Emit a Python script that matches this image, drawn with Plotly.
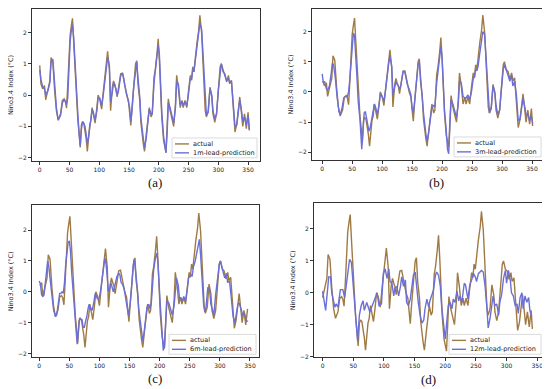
import plotly.graph_objects as go

# ---- Data ----
actual_t = [0, 2, 5, 8, 10, 14, 17, 19, 22, 25, 28, 31, 35, 38, 41, 43, 45, 47, 49, 51, 53, 55, 57, 59, 61, 64, 66, 68, 70, 72, 74, 76, 78, 80, 82, 84, 86, 88, 90, 93, 96, 98, 101, 104, 107, 110, 112, 114, 117, 119, 122, 124, 126, 128, 130, 132, 134, 136, 139, 141, 143, 146, 149, 151, 153, 155, 158, 161, 163, 165, 168, 170, 174, 176, 179, 182, 184, 187, 189, 192, 194, 197, 199, 201, 203, 205, 208, 210, 212, 214, 216, 219, 222, 225, 228, 230, 233, 236, 239, 241, 244, 247, 250, 253, 255, 257, 259, 261, 264, 267, 269, 272, 275, 278, 280, 283, 286, 289, 291, 294, 297, 300, 303, 305, 308, 311, 314, 317, 319, 322, 325, 328, 331, 333, 336, 339, 341, 344, 347, 350, 352]
actual_v = [0.95, 0.36, 0.2, 0.3, -0.15, 0.2, 0.45, 1.2, 1.05, 0.15, -0.5, -0.8, -0.6, -0.17, -0.12, -0.2, -0.42, 0.3, 1.3, 1.9, 2.2, 2.45, 1.7, 0.9, 0.1, -0.8, -1.2, -1.67, -0.95, -0.85, -0.9, -1.1, -1.4, -1.8, -1.24, -0.95, -0.8, -0.4, -0.6, -0.9, -0.4, 0.0, -0.15, -0.45, 0.15, 0.8, 1.0, 1.4, 0.8, -0.5, 0.25, 0.45, 0.3, 0.2, -0.06, 0.15, 0.4, 0.68, 0.7, 0.5, 0.25, 0.0, -0.17, -0.5, -0.97, -0.4, 0.45, 1.0, 1.1, 0.36, -0.17, -0.9, -1.56, -1.8, -1.24, -0.7, -0.4, -0.7, -0.6, 0.58, 0.8, 1.33, 1.8, 1.1, -0.17, -0.7, -1.45, -1.72, -1.83, -1.0, -0.12, -0.5, -0.8, -1.0, -0.28, 0.63, 0.2, -0.4, -0.17, -0.4, -0.17, -0.4, 0.15, 0.63, 0.47, 0.9, 0.74, 1.22, 1.65, 2.07, 2.55, 1.97, 0.68, -0.5, -0.7, -0.5, 0.25, -0.06, -0.6, -0.87, -0.6, 0.25, 0.9, 1.0, 0.74, 0.68, 0.42, 0.63, 0.36, 0.47, -0.28, -1.18, -0.92, -0.5, -0.06, -0.6, -1.0, -0.6, -1.07, -0.55, -1.13]

# start offset of the actual series in each panel (a, b, c, d)
panel_offsets = [0, 1, 4, 10]
panel_lengths = [352, 351, 347, 342]

pred1_v = [0.8, 0.5, 0.25, 0.2, 0.0, 0.15, 0.4, 1.05, 1.15, 0.35, -0.4, -0.8, -0.65, -0.25, -0.15, -0.2, -0.3, -0.1, 1.0, 1.7, 2.05, 2.25, 1.85, 1.0, 0.3, -0.6, -1.2, -1.62, -1.1, -0.85, -0.9, -1.0, -1.25, -1.55, -1.35, -1.0, -0.85, -0.45, -0.55, -0.8, -0.5, -0.1, -0.1, -0.35, 0.05, 0.65, 0.95, 1.2, 0.95, -0.2, 0.1, 0.4, 0.35, 0.2, 0.0, 0.1, 0.35, 0.62, 0.7, 0.55, 0.3, 0.05, -0.15, -0.4, -0.85, -0.5, 0.3, 0.9, 1.05, 0.55, -0.05, -0.75, -1.45, -1.7, -1.35, -0.8, -0.45, -0.6, -0.6, 0.4, 0.75, 1.2, 1.6, 1.3, 0.1, -0.55, -1.3, -1.65, -1.85, -1.2, -0.25, -0.4, -0.7, -0.9, -0.4, 0.45, 0.35, -0.3, -0.2, -0.35, -0.2, -0.35, 0.05, 0.55, 0.5, 0.8, 0.75, 1.1, 1.5, 1.95, 2.3, 2.1, 0.9, -0.35, -0.65, -0.55, 0.2, 0.0, -0.5, -0.75, -0.6, 0.15, 0.8, 1.0, 0.8, 0.65, 0.45, 0.55, 0.4, 0.45, -0.15, -1.0, -0.95, -0.6, -0.15, -0.5, -0.85, -0.7, -0.95, -0.65, -1.1]

pred3_t = [0, 2, 4, 7, 9, 12, 15, 17, 19, 22, 25, 28, 30, 33, 36, 39, 42, 44, 46, 48, 50, 52, 54, 56, 58, 60, 63, 66, 68, 70, 72, 74, 76, 78, 80, 83, 85, 87, 89, 92, 95, 97, 100, 103, 106, 109, 111, 113, 116, 118, 121, 123, 125, 127, 129, 131, 133, 135, 138, 140, 142, 145, 148, 150, 152, 154, 157, 160, 162, 164, 167, 169, 173, 175, 178, 181, 183, 186, 188, 191, 193, 196, 198, 200, 202, 204, 207, 209, 211, 213, 215, 218, 221, 224, 227, 229, 232, 235, 238, 240, 243, 246, 249, 252, 254, 256, 258, 260, 263, 266, 268, 271, 274, 277, 279, 282, 285, 288, 290, 293, 296, 299, 302, 304, 307, 310, 313, 316, 318, 321, 324, 327, 330, 332, 335, 338, 340, 343, 346, 349, 351]
pred3_v = [0.6, 0.3, 0.35, 0.1, 0.05, 0.2, 0.6, 0.95, 0.9, 0.45, -0.2, -0.65, -0.75, -0.55, -0.2, -0.15, -0.15, 0.0, 0.4, 1.0, 1.5, 1.95, 1.85, 1.3, 0.5, -0.3, -0.9, -1.9, -1.2, -0.7, -0.65, -0.85, -1.0, -1.3, -1.2, -0.8, -0.65, -0.4, -0.5, -0.75, -0.4, -0.05, -0.15, -0.3, 0.1, 0.7, 0.95, 1.2, 0.85, -0.1, 0.2, 0.35, 0.25, 0.2, 0.1, 0.2, 0.45, 0.7, 0.65, 0.4, 0.25, 0.1, -0.1, -0.55, -0.7, -0.35, 0.4, 0.9, 1.0, 0.5, -0.1, -0.7, -1.4, -1.65, -1.3, -0.8, -0.5, -0.45, -0.5, 0.3, 0.65, 1.2, 1.5, 1.15, 0.0, -0.6, -1.3, -1.9, -2.05, -1.2, -0.25, -0.4, -0.65, -0.85, -0.4, 0.35, 0.3, -0.15, -0.2, -0.2, -0.1, -0.25, 0.0, 0.45, 0.5, 0.75, 0.7, 0.85, 1.3, 1.75, 2.0, 1.9, 0.9, -0.3, -0.7, -0.55, 0.2, 0.0, -0.45, -0.75, -0.6, 0.1, 0.75, 0.9, 0.75, 0.55, 0.35, 0.55, 0.2, 0.35, -0.1, -0.95, -0.9, -0.6, -0.2, -0.5, -0.75, -0.75, -0.95, -0.8, -1.05]

pred6_t = [0, 2, 4, 6, 8, 10, 12, 14, 16, 18, 21, 24, 27, 29, 32, 34, 36, 38, 40, 42, 44, 46, 48, 50, 52, 54, 57, 60, 63, 65, 67, 69, 71, 73, 75, 77, 79, 81, 83, 86, 88, 91, 93, 96, 99, 102, 105, 107, 109, 111, 113, 115, 117, 119, 121, 123, 125, 127, 129, 132, 134, 136, 138, 141, 143, 146, 148, 151, 154, 156, 158, 160, 163, 165, 168, 170, 172, 174, 177, 179, 182, 184, 186, 188, 190, 193, 195, 197, 199, 201, 203, 206, 208, 210, 212, 215, 218, 221, 224, 226, 228, 231, 233, 235, 238, 240, 243, 246, 248, 250, 252, 254, 256, 259, 262, 264, 266, 268, 270, 273, 275, 277, 280, 283, 285, 288, 290, 293, 296, 299, 301, 303, 306, 308, 311, 313, 316, 319, 322, 325, 327, 330, 332, 335, 338, 341, 344, 347]
pred6_v = [0.35, 0.25, -0.1, -0.15, -0.1, 0.3, 0.8, 1.0, 0.8, 0.35, -0.1, -0.6, -0.8, -0.75, -0.4, -0.05, -0.05, 0.0, -0.05, 0.3, 0.9, 1.3, 1.6, 1.65, 1.3, 0.6, -0.2, -0.9, -1.7, -1.3, -0.85, -0.9, -0.9, -1.15, -1.15, -0.95, -0.8, -0.55, -0.4, -0.55, -0.6, -0.3, -0.05, -0.2, -0.25, 0.05, 0.5, 0.85, 1.1, 0.9, 0.3, 0.0, 0.1, 0.3, 0.15, 0.0, 0.15, 0.35, 0.5, 0.6, 0.55, 0.3, 0.25, 0.1, -0.2, -0.5, -0.75, -0.4, 0.3, 0.85, 1.05, 0.7, 0.1, -0.5, -1.0, -1.45, -1.6, -1.35, -0.8, -0.5, -0.4, -0.55, -0.4, 0.3, 0.7, 1.1, 1.25, 1.0, 0.1, -0.4, -1.0, -1.9, -1.75, -1.1, -0.3, -0.35, -0.55, -0.75, -0.45, 0.2, 0.45, 0.2, -0.25, -0.2, -0.3, -0.15, -0.3, 0.1, 0.45, 0.5, 0.55, 0.5, 0.8, 1.0, 1.35, 1.6, 1.7, 1.2, 0.5, -0.4, -0.65, -0.5, 0.15, 0.05, -0.4, -0.65, -0.75, -0.1, 0.5, 0.9, 1.0, 0.8, 0.6, 0.45, 0.6, 0.3, 0.35, -0.2, -0.8, -1.0, -0.8, -0.4, -0.35, -0.6, -0.75, -0.7, -0.95, -0.95]

pred12_t = [0, 5, 10, 13, 15, 20, 22, 25, 29, 33, 36, 40, 44, 47, 50, 52, 55, 57, 60, 63, 66, 68, 72, 77, 80, 84, 89, 92, 96, 99, 102, 105, 108, 110, 113, 116, 118, 121, 124, 127, 129, 132, 135, 137, 140, 143, 146, 148, 151, 154, 156, 159, 162, 165, 167, 170, 173, 175, 178, 181, 184, 186, 189, 192, 194, 197, 200, 203, 205, 208, 211, 213, 216, 219, 222, 224, 227, 231, 233, 237, 240, 243, 246, 249, 251, 254, 257, 259, 262, 265, 268, 270, 273, 276, 278, 281, 284, 287, 289, 292, 295, 298, 300, 303, 306, 308, 311, 314, 317, 319, 322, 325, 327, 330, 333, 336, 338, 341]
pred12_v = [0.05, -0.55, 0.5, 0.5, 0.0, -0.45, -0.35, -0.45, 0.1, 0.1, -0.15, 0.5, 1.05, 0.95, 0.15, -0.5, -1.0, -1.5, -0.7, -0.4, -0.25, -0.55, -0.3, -0.6, -0.45, -0.25, 0.0, -0.4, -0.35, 0.6, 0.75, 0.45, 0.75, 0.35, 0.3, -0.1, 0.15, 0.2, -0.1, 0.2, 0.5, 0.2, 0.4, -0.3, -0.4, -0.2, 0.25, 0.55, 0.65, 0.05, -0.3, -0.7, -0.95, -0.85, -0.5, -0.2, -0.45, -0.25, -0.1, 0.1, 0.55, 0.65, 0.55, 0.2, -0.4, -1.0, -1.45, -0.8, -0.4, -0.3, -0.5, -0.2, -0.3, 0.05, -0.25, -0.1, -0.3, 0.3, 0.25, -0.2, 0.25, 0.4, 0.6, 0.5, 0.35, 0.6, 0.65, 0.7, 0.65, 0.2, -0.5, -1.1, -0.8, -0.35, -0.1, -0.4, -0.35, -0.7, -0.3, -0.05, 0.45, 0.7, 0.3, 0.7, 0.4, 0.0, -0.1, -0.4, -0.35, -0.65, -0.15, 0.0, -0.5, -0.1, -0.3, -0.15, -0.55, -0.75]

pred_names = ["1m-lead-prediction", "3m-lead-prediction", "6m-lead-prediction", "12m-lead-prediction"]
captions = ["(a)", "(b)", "(c)", "(d)"]
y_ticks = [-2, -1, 0, 1, 2]
x_ticks = [0, 50, 100, 150, 200, 250, 300, 350]

# ---- Styling / layout ----
ACT_COLOR = "#9f7a44"
PRED_COLOR = "#6b6fd6"
PAGE_W, PAGE_H = 550, 389
OFF = 8  # default page body margin
W, H = PAGE_W - OFF, PAGE_H - OFF

# axes boxes in page pixels: (left, right, top, bottom)
boxes = [(32, 260, 8, 161), (312, 544, 8, 160), (32, 259, 206, 359), (314, 544, 204, 359)]
x_ranges = [[-13, 370], [-17, 370], [-12, 365], [-14, 361]]
y_ranges = [[-2.1, 2.75], [-2.25, 2.75], [-2.12, 2.8], [-2.02, 2.8]]
caption_pos = [(155, 183), (436, 183), (155, 380), (428, 381)]
ylabel_x = [11, 291, 11, 293]
legend_w = [85, 87, 87, 92]

pred_series = [(actual_t, pred1_v), (pred3_t, pred3_v), (pred6_t, pred6_v), (pred12_t, pred12_v)]

fig = go.Figure()
layout = dict(width=W, height=H, margin=dict(l=0, r=0, t=0, b=0),
              paper_bgcolor="white", plot_bgcolor="white", showlegend=False,
              font=dict(family="DejaVu Sans", size=6, color="#222"),
              annotations=[], shapes=[])

def px(x):
    return (x - OFF) / W

def py(y):
    return 1 - (y - OFF) / H

for i in range(4):
    n = "" if i == 0 else str(i + 1)
    xa, ya = "x" + n, "y" + n
    off = panel_offsets[i]
    ax_t = [t - off for t in actual_t if 0 <= t - off <= panel_lengths[i]]
    ax_v = [v for t, v in zip(actual_t, actual_v) if 0 <= t - off <= panel_lengths[i]]
    pt, pv = pred_series[i]
    fig.add_trace(go.Scatter(x=ax_t, y=ax_v, mode="lines", name="actual",
                             line=dict(color=ACT_COLOR, width=1.4),
                             xaxis=xa, yaxis=ya))
    fig.add_trace(go.Scatter(x=pt, y=pv, mode="lines", name=pred_names[i],
                             line=dict(color=PRED_COLOR, width=1.4),
                             xaxis=xa, yaxis=ya))
    l, r, t, b = boxes[i]
    axis_common = dict(showgrid=False, zeroline=False, showline=True, mirror=True,
                       linecolor="#333", linewidth=0.8, ticks="outside", ticklen=3,
                       tickcolor="#333", tickwidth=0.8,
                       tickfont=dict(family="DejaVu Sans", size=6, color="#222"))
    layout["xaxis" + n] = dict(domain=[max(0, px(l)), min(1, px(r))], range=x_ranges[i],
                               tickvals=x_ticks, anchor=ya, **axis_common)
    layout["yaxis" + n] = dict(domain=[max(0, py(b)), min(1, py(t))], range=y_ranges[i],
                               tickvals=y_ticks, anchor=xa, **axis_common)

    # legend box drawn in the lower right of each panel
    lr, lb = r - 3, b - 3
    ll, lt = lr - legend_w[i], lb - 20
    layout["shapes"].append(dict(type="rect", xref="paper", yref="paper",
                                 x0=px(ll), x1=px(lr), y0=py(lb), y1=py(lt),
                                 fillcolor="rgba(255,255,255,0.85)",
                                 line=dict(color="#d0d0d0", width=0.8)))
    for k, (name, col) in enumerate([("actual", ACT_COLOR), (pred_names[i], PRED_COLOR)]):
        ry = lt + 6 + 9 * k
        layout["shapes"].append(dict(type="line", xref="paper", yref="paper",
                                     x0=px(ll + 3), x1=px(ll + 17), y0=py(ry), y1=py(ry),
                                     line=dict(color=col, width=1.4)))
        layout["annotations"].append(dict(text=name, x=px(ll + 20), y=py(ry),
                                          xref="paper", yref="paper", showarrow=False,
                                          xanchor="left", yanchor="middle",
                                          borderpad=0,
                                          font=dict(family="DejaVu Sans", size=6.5, color="#222")))

    cx, cy = caption_pos[i]
    layout["annotations"].append(dict(text=captions[i], x=px(cx), y=py(cy),
                                      xref="paper", yref="paper", showarrow=False,
                                      font=dict(family="Liberation Serif", size=13, color="#111"),
                                      xanchor="center", yanchor="middle", borderpad=0))
    layout["annotations"].append(dict(text="Nino3.4 Index (°C)", x=px(ylabel_x[i]),
                                      y=py((t + b) / 2), xref="paper", yref="paper",
                                      showarrow=False, textangle=-90, borderpad=0,
                                      font=dict(family="DejaVu Sans", size=6.5, color="#222"),
                                      xanchor="center", yanchor="middle"))

fig.update_layout(**layout)
fig.write_html("out.html")
